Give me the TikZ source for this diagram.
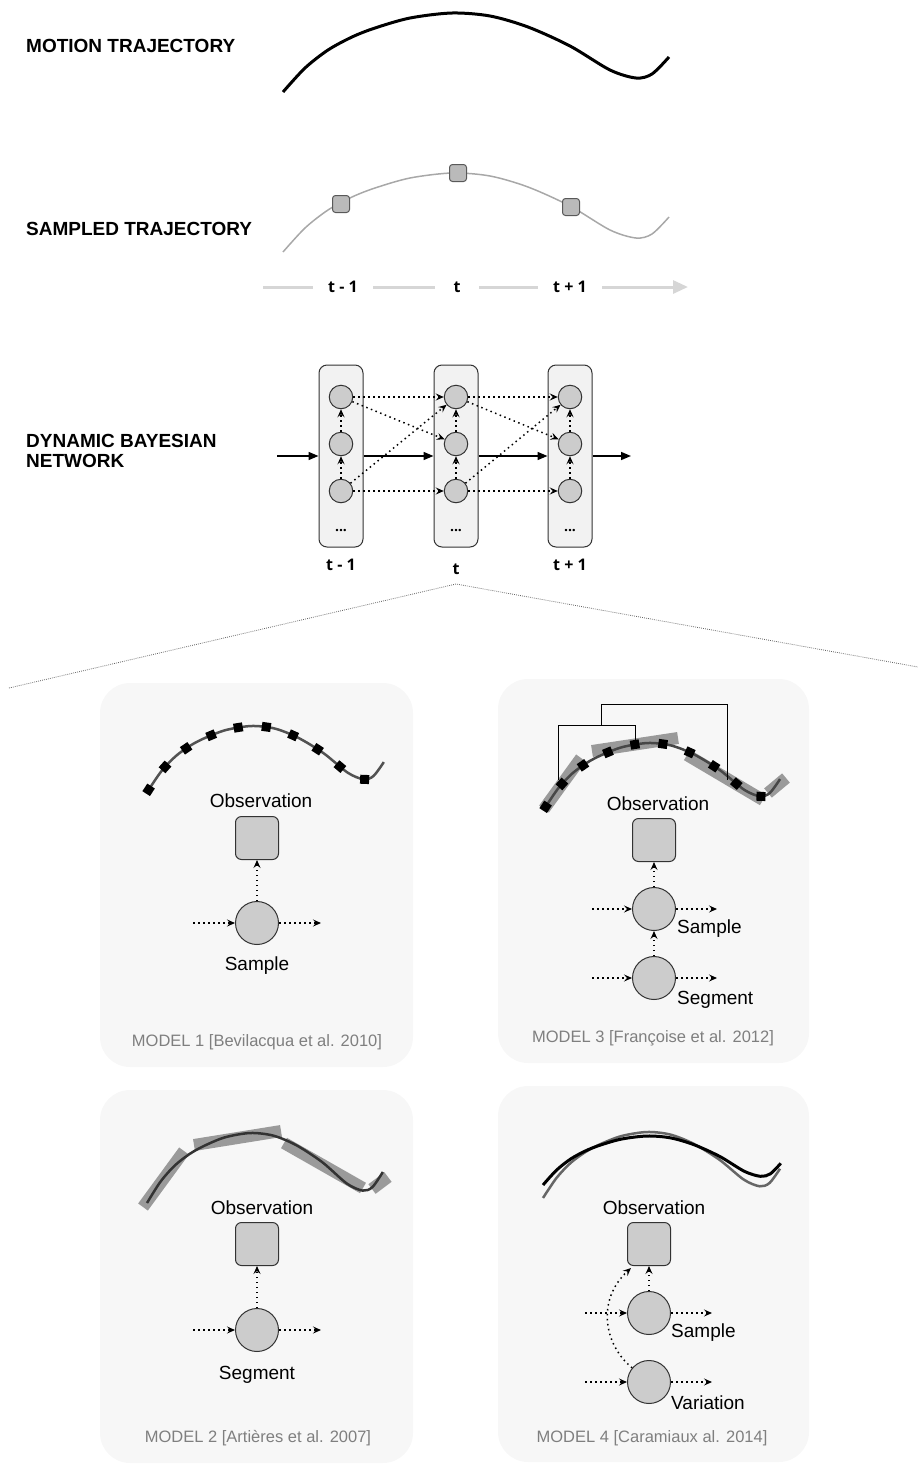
\documentclass[tikz,border=0pt]{standalone}
\usepackage{fontspec}
\setmainfont{Liberation Sans}
\newfontfamily\tfont{Open Sans}
\usetikzlibrary{arrows.meta,decorations.markings}

\definecolor{panelgray}{HTML}{F7F7F7}
\definecolor{nodegray}{HTML}{CCCCCC}
\definecolor{slicegray}{HTML}{F2F2F2}
\definecolor{edgegray}{HTML}{333333}
\definecolor{axisgray}{HTML}{D6D6D6}
\definecolor{trajgray}{HTML}{A8A8A8}
\definecolor{seggray}{HTML}{9A9A9A}
\definecolor{capgray}{HTML}{7F7F7F}

\newcommand{\traj}{plot[smooth] coordinates {(0,79) (22,55) (45,37) (69,24) (92,15) (127,5) (169,0) (207,3) (245,14) (287,33) (327,57) (353,65) (369,61) (386,44)}}

\begin{document}
\begin{tikzpicture}[x=1pt, y=-1pt,
  heading/.style={font=\bfseries\fontsize{19}{19.5}\selectfont, inner sep=0, anchor=base west, align=left},
  lbl/.style={font=\fontsize{19}{21}\selectfont, inner sep=0},
  modelcap/.style={font=\fontsize{16.5}{18}\selectfont, text=capgray, inner sep=0, anchor=base},
  tlabel/.style={font=\tfont\bfseries\fontsize{16}{18}\selectfont, inner sep=0, anchor=base},
  panel/.style={fill=panelgray, rounded corners=30},
  var/.style={circle, draw=edgegray, fill=nodegray, line width=1, minimum size=43, inner sep=0},
  obs/.style={rectangle, rounded corners=6, draw=edgegray, fill=nodegray, line width=1, minimum size=43, inner sep=0},
  slice/.style={rectangle, rounded corners=8, draw=edgegray, fill=slicegray, line width=1, minimum width=44, minimum height=182, inner sep=0},
  samp/.style={rectangle, rounded corners=3, draw=black!65, fill=black!27, line width=1, minimum size=17, inner sep=0},
  dep/.style={line width=1.5, dash pattern=on 1.5pt off 3.5pt, -{Stealth[length=8pt, width=7pt, inset=3pt]}},
  flow/.style={line width=1.5, -{Triangle[length=10pt, width=8pt]}},
  axis/.style={axisgray, line width=3, -{Triangle[length=15pt, width=13pt]}},
  seg/.style={seggray, line width=12},
  bracket/.style={line width=0.8},
  fan/.style={black!60, line width=0.8, dash pattern=on 0.8pt off 1.2pt},
  dotted sq/.style={decoration={markings, mark=between positions 0.004 and 0.91 step 0.1 with {\fill[black] (-4.5,-4.5) rectangle (4.5,4.5);}}, postaction=decorate}]
  \useasboundingbox (0,0) rectangle (918,1470);

  \node[heading] (motion) at (26,52) {MOTION TRAJECTORY};
  \node[heading] (sampled) at (26,235) {SAMPLED TRAJECTORY};
  \node[heading] (dbn) at (26,467) {DYNAMIC BAYESIAN\\NETWORK};

  \begin{scope}[shift={(283,13)}]
    \draw[line width=3] \traj;
  \end{scope}
  \begin{scope}[shift={(283,173)}]
    \draw[trajgray, line width=1.5] \traj;
  \end{scope}
  \node[samp] (samp1) at (341,204) {};
  \node[samp] (samp2) at (458,173) {};
  \node[samp] (samp3) at (571,207) {};

  \coordinate (ax0) at (263,287);
  \coordinate (ax1) at (688,287);
  \draw[axis] (ax0) -- (ax1);
  \node[tlabel, fill=white, inner xsep=15pt, inner ysep=2pt] (ax-1) at (343,292) {t - 1};
  \node[tlabel, fill=white, inner xsep=19pt, inner ysep=2pt] (ax-2) at (457,292) {t};
  \node[tlabel, fill=white, inner xsep=15pt, inner ysep=2pt] (ax-3) at (570,292) {t + 1};

  \foreach \n/\x/\lab/\b in {1/341/{t - 1}/570, 2/456/t/574, 3/570/{t + 1}/570} {
    \node[slice] (s\n) at (\x,456) {};
    \node[var, minimum size=23.5] (top\n) at (\x,397) {};
    \node[var, minimum size=23.5] (mid\n) at (\x,444) {};
    \node[var, minimum size=23.5] (bot\n) at (\x,491) {};
    \node[tlabel, font=\tfont\bfseries\fontsize{14}{16}\selectfont] (dots\n) at (\x,531) {...};
    \node[tlabel] (tl\n) at (\x,\b) {\lab};
    \draw[dep] (bot\n) -- (mid\n);
    \draw[dep] (mid\n) -- (top\n);
  }
  \foreach \i/\j in {1/2, 2/3} {
    \draw[dep] (top\i) -- (top\j);
    \draw[dep] (top\i) -- (mid\j);
    \draw[dep] (bot\i) -- (bot\j);
    \draw[dep] (bot\i) -- (top\j);
    \draw[flow] (s\i) -- (s\j);
  }
  \coordinate (in) at (277,456);
  \coordinate (out) at (631,456);
  \draw[flow] (in) -- (s1);
  \draw[flow] (s3) -- (out);

  \coordinate (fanL) at (9,688);
  \coordinate (fanT) at (456,584);
  \coordinate (fanR) at (918,667);
  \draw[fan] (fanL) -- (fanT) -- (fanR);

  \fill[panel] (100,683) rectangle (413,1067);
  \fill[panel] (498,679) rectangle (809,1063);
  \fill[panel] (100,1090) rectangle (413,1463);
  \fill[panel] (498,1086) rectangle (809,1462);

  \begin{scope}[shift={(148,726)}, xscale=0.611, yscale=0.82]
    \draw[black!68, line width=2.5, dotted sq] \traj;
  \end{scope}
  \node[lbl, anchor=base] (obst1) at (261,807) {Observation};
  \node[obs] (obs1) at (257,838) {};
  \node[var] (smp1) at (257,923) {};
  \node[lbl, anchor=base] (smpl1) at (257,970) {Sample};
  \coordinate (in1) at (193,923);
  \coordinate (out1) at (321,923);
  \draw[dep] (in1) -- (smp1);
  \draw[dep] (smp1) -- (out1);
  \draw[dep] (smp1) -- (obs1);
  \node[modelcap] (cap1) at (257,1046) {MODEL 1 [Bevilacqua et al. 2010]};

  \draw[seg] (544,809) -- (581,758);
  \draw[seg] (592,751) -- (678,738);
  \draw[seg] (687,755) -- (763,800);
  \draw[seg] (768,793) -- (786,778);
  \begin{scope}[shift={(545,743)}, xscale=0.609, yscale=0.82]
    \draw[black!72, line width=2.5, dotted sq] \traj;
  \end{scope}
  \draw[bracket] (558,780) |- (635,725) -- (635,742);
  \draw[bracket] (601,725) |- (727,704) -- (727,780);
  \node[lbl, anchor=base] (obst3) at (658,810) {Observation};
  \node[obs] (obs3) at (654,840) {};
  \node[var] (smp3) at (654,909) {};
  \node[var] (sgm3) at (654,978) {};
  \node[lbl, anchor=base west] (smpl3) at (677,933) {Sample};
  \node[lbl, anchor=base west] (sgml3) at (677,1004) {Segment};
  \coordinate (in3a) at (592,909);
  \coordinate (out3a) at (717,909);
  \coordinate (in3b) at (592,978);
  \coordinate (out3b) at (717,978);
  \draw[dep] (in3a) -- (smp3);
  \draw[dep] (smp3) -- (out3a);
  \draw[dep] (in3b) -- (sgm3);
  \draw[dep] (sgm3) -- (out3b);
  \draw[dep] (smp3) -- (obs3);
  \draw[dep] (sgm3) -- (smp3);
  \node[modelcap] (cap3) at (653,1042) {MODEL 3 [Françoise et al. 2012]};

  \draw[seg] (143,1207) -- (184,1151);
  \draw[seg] (194,1145) -- (281,1131);
  \draw[seg] (284,1143) -- (363,1188);
  \draw[seg] (372,1189) -- (388,1177);
  \begin{scope}[shift={(147,1133)}, xscale=0.611, yscale=0.886]
    \draw[black!80, line width=2.5] \traj;
  \end{scope}
  \node[lbl, anchor=base] (obst2) at (262,1214) {Observation};
  \node[obs] (obs2) at (257,1244) {};
  \node[var] (sgm2) at (257,1330) {};
  \node[lbl, anchor=base] (sgml2) at (257,1379) {Segment};
  \coordinate (in2) at (193,1330);
  \coordinate (out2) at (321,1330);
  \draw[dep] (in2) -- (sgm2);
  \draw[dep] (sgm2) -- (out2);
  \draw[dep] (sgm2) -- (obs2);
  \node[modelcap] (cap2) at (258,1442) {MODEL 2 [Artières et al. 2007]};

  \begin{scope}[shift={(543,1132)}, xscale=0.614, yscale=0.835]
    \draw[black!60, line width=2.5] \traj;
  \end{scope}
  \begin{scope}[shift={(543,1136)}, xscale=0.616, yscale=0.62]
    \draw[line width=3] \traj;
  \end{scope}
  \node[lbl, anchor=base] (obst4) at (654,1214) {Observation};
  \node[obs] (obs4) at (649,1244) {};
  \node[var] (smp4) at (649,1313) {};
  \node[var] (var4) at (649,1382) {};
  \node[lbl, anchor=base west] (smpl4) at (671,1337) {Sample};
  \node[lbl, anchor=base west] (varl4) at (671,1409) {Variation};
  \coordinate (in4a) at (585,1313);
  \coordinate (out4a) at (712,1313);
  \coordinate (in4b) at (585,1382);
  \coordinate (out4b) at (712,1382);
  \draw[dep] (in4a) -- (smp4);
  \draw[dep] (smp4) -- (out4a);
  \draw[dep] (in4b) -- (var4);
  \draw[dep] (var4) -- (out4b);
  \draw[dep] (smp4) -- (obs4);
  \draw[dep] (var4.140) .. controls (604,1345) and (596,1300) .. ([xshift=4pt, yshift=-2pt]obs4.south west);
  \node[modelcap] (cap4) at (652,1442) {MODEL 4 [Caramiaux al. 2014]};
\end{tikzpicture}
\end{document}
